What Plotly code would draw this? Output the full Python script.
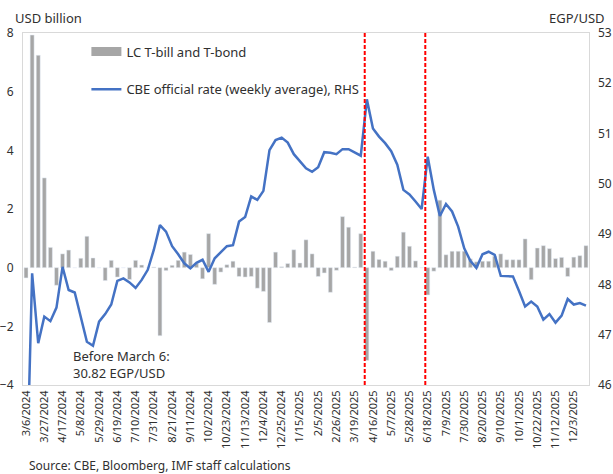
import pandas as pd
import plotly.graph_objects as go

# Weekly categories (one holiday week, 4/2/2025, absent from the series)
weeks = pd.date_range("2024-03-06", "2025-12-17", freq="7D")
weeks = [d for d in weeks if d != pd.Timestamp("2025-04-02")]
categories = [f"{d.month}/{d.day}/{d.year}" for d in weeks]

# LC T-bill and T-bond flows, USD billion (LHS)
flows = [-0.35, 7.93, 7.24, 3.06, 0.69, -0.6, 0.47, 0.6, 0.0, 0.32,
         1.07, 0.33, 0.0, -0.44, 0.25, -0.32, 0.0, -0.4, 0.25, 0.09,
         0.0, 0.02, -2.32, -0.1, 0.08, 0.25, 0.53, 0.45, 0.14, -0.38,
         1.16, -0.57, -0.15, 0.1, 0.22, -0.3, -0.32, -0.3, -0.7, -0.81,
         -1.87, 0.53, 0.03, 0.14, 0.61, 0.16, 0.95, 0.47, -0.3, -0.18,
         -0.84, -0.09, 1.74, 1.38, 0.02, 1.16, -3.16, 0.56, 0.28, 0.22,
         -0.1, 0.39, 1.21, 0.73, 0.23, 0.0, -0.93, -0.12, 2.3, 0.44,
         0.56, 0.56, 0.56, 0.3, 0.2, 0.22, 0.22, 0.39, 0.47, 0.27,
         0.27, 0.27, 0.98, -0.41, 0.67, 0.75, 0.65, 0.31, 0.35, -0.3,
         0.36, 0.41, 0.75]

# CBE official rate, weekly average, EGP/USD (RHS)
rate = [43.5, 48.22, 46.83, 47.36, 47.27, 47.54, 48.35, 47.89, 47.84, 47.36,
        46.86, 46.78, 47.26, 47.41, 47.6, 48.07, 48.12, 48.04, 47.93, 48.09,
        48.29, 48.69, 49.18, 49.05, 48.76, 48.6, 48.42, 48.32, 48.43, 48.49,
        48.25, 48.52, 48.64, 48.76, 48.78, 49.25, 49.34, 49.75, 49.68, 49.86,
        50.67, 50.87, 50.92, 50.82, 50.59, 50.44, 50.31, 50.24, 50.33, 50.63,
        50.62, 50.59, 50.69, 50.69, 50.63, 50.56, 51.68, 51.1, 50.94, 50.81,
        50.65, 50.38, 49.88, 49.79, 49.65, 49.5, 50.54, 49.88, 49.36, 49.6,
        49.45, 49.15, 48.72, 48.47, 48.33, 48.6, 48.65, 48.59, 48.17, 48.16,
        48.16, 47.87, 47.56, 47.66, 47.56, 47.3, 47.41, 47.24, 47.38, 47.71,
        47.6, 47.63, 47.58]

tick_labels = categories[::3]
event_positions = [55.65, 65.6]  # category-index positions of the two shock markers

FONT = "Noto Sans"
TXT = "#303030"
BAR_C = "#a6a6a6"
LINE_C = "#4472c4"

fig = go.Figure()
fig.add_trace(go.Bar(x=categories, y=flows, name="LC T-bill and T-bond",
                     marker_color=BAR_C, showlegend=False))
fig.add_trace(go.Scatter(x=categories, y=rate, yaxis="y2", mode="lines",
                         name="CBE official rate (weekly average), RHS",
                         line=dict(color=LINE_C, width=2.5), showlegend=False))
# legend swatches (wide bar key like the original)
fig.add_trace(go.Scatter(x=[None], y=[None], mode="lines", name="LC T-bill and T-bond",
                         line=dict(color=BAR_C, width=9), legendgroup="a"))
fig.add_trace(go.Scatter(x=[None], y=[None], mode="lines", yaxis="y2",
                         name="CBE official rate (weekly average), RHS",
                         line=dict(color=LINE_C, width=2.5), legendgroup="b"))

for xv in event_positions:
    fig.add_shape(type="line", xref="x", yref="paper", x0=xv, x1=xv, y0=0, y1=1,
                  line=dict(color="#ff0000", width=2, dash="4px,2px"))

fig.update_layout(
    width=613, height=474,
    margin=dict(l=23, r=24, t=33, b=89, autoexpand=False),
    paper_bgcolor="white", plot_bgcolor="white",
    font=dict(family=FONT, size=12, color=TXT),
    bargap=0.35,
    showlegend=True,
    legend=dict(x=0.112, y=0.99, xanchor="left", yanchor="top",
                bgcolor="rgba(0,0,0,0)", font=dict(size=13, color=TXT),
                tracegroupgap=18),
    xaxis=dict(type="category", tickmode="array", tickvals=tick_labels,
               ticktext=tick_labels, tickangle=-90, tickfont=dict(size=11),
               showgrid=False, zeroline=False, showline=True, linecolor="#d9d9d9",
               mirror=True, ticks="", automargin=False,
               range=[-0.5, len(categories) - 0.5]),
    yaxis=dict(range=[-4, 8], dtick=2, showgrid=False, zeroline=False,
               showline=True, linecolor="#d9d9d9", mirror=True, ticks="",
               tickfont=dict(size=12), ticklabelstandoff=6, automargin=False),
    yaxis2=dict(range=[46, 53], dtick=1, overlaying="y", side="right",
                showgrid=False, zeroline=False, showline=False, ticks="",
                tickfont=dict(size=12), ticklabelstandoff=8, automargin=False),
    annotations=[
        dict(text="USD billion", xref="paper", yref="paper", x=-0.018, y=1.043,
             xanchor="left", yanchor="middle", showarrow=False, font=dict(size=13)),
        dict(text="EGP/USD", xref="paper", yref="paper", x=1.032, y=1.043,
             xanchor="right", yanchor="middle", showarrow=False, font=dict(size=13)),
        dict(text="Before March 6:<br>30.82 EGP/USD", xref="paper", yref="paper",
             x=0.084, y=0.057, xanchor="left", yanchor="middle", align="left",
             showarrow=False, font=dict(size=13)),
        dict(text="Source: CBE, Bloomberg, IMF staff calculations", xref="paper",
             yref="paper", x=0.007, y=-0.23, xanchor="left", yanchor="middle",
             showarrow=False, font=dict(size=12)),
    ],
)

fig.write_html("out.html", config={"displayModeBar": False},
               post_script="document.body.style.margin='0';document.body.style.overflow='hidden';")
